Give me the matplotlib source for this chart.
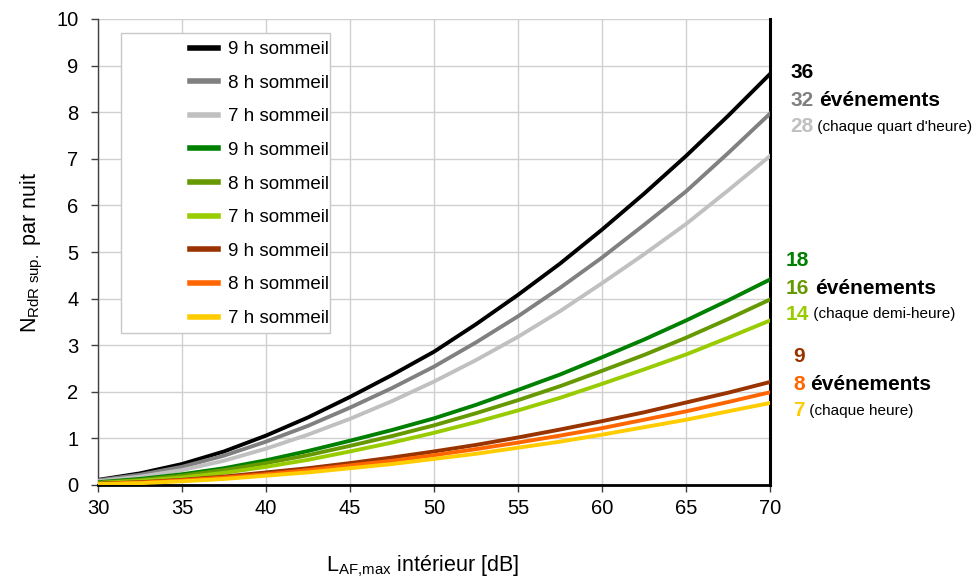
import matplotlib
matplotlib.use("Agg")
import matplotlib.pyplot as plt
from matplotlib.patches import Rectangle

plt.rcParams['font.family'] = ['Liberation Sans', 'DejaVu Sans']
plt.rcParams['mathtext.fontset'] = 'custom'
plt.rcParams['mathtext.rm'] = 'Liberation Sans'
plt.rcParams['mathtext.it'] = 'Liberation Sans:italic'

# niveau LAF,max interieur [dB]
laf = [30, 32.5, 35, 37.5, 40, 42.5, 45, 47.5, 50, 52.5, 55, 57.5, 60, 62.5, 65, 67.5, 70]

# chaque quart d'heure (36 / 32 / 28 evenements)
q9 = [0.11, 0.25, 0.45, 0.72, 1.06, 1.45, 1.89, 2.36, 2.86, 3.45, 4.08, 4.75, 5.48, 6.25, 7.06, 7.92, 8.82]
q8 = [0.10, 0.22, 0.39, 0.63, 0.93, 1.27, 1.66, 2.08, 2.54, 3.06, 3.62, 4.23, 4.88, 5.58, 6.30, 7.12, 7.97]
q7 = [0.08, 0.18, 0.32, 0.52, 0.78, 1.08, 1.42, 1.80, 2.22, 2.68, 3.18, 3.73, 4.33, 4.95, 5.60, 6.32, 7.06]
# chaque demi-heure (18 / 16 / 14)
d9 = [0.06, 0.13, 0.23, 0.36, 0.53, 0.73, 0.95, 1.18, 1.43, 1.72, 2.04, 2.37, 2.74, 3.12, 3.53, 3.96, 4.41]
d8 = [0.05, 0.11, 0.20, 0.32, 0.47, 0.64, 0.84, 1.05, 1.28, 1.54, 1.82, 2.12, 2.45, 2.79, 3.16, 3.56, 3.98]
d7 = [0.04, 0.09, 0.16, 0.26, 0.39, 0.54, 0.72, 0.91, 1.12, 1.35, 1.60, 1.87, 2.17, 2.48, 2.80, 3.16, 3.53]
# chaque heure (9 / 8 / 7)
h9 = [0.03, 0.06, 0.11, 0.18, 0.27, 0.36, 0.47, 0.59, 0.72, 0.86, 1.02, 1.19, 1.37, 1.56, 1.77, 1.98, 2.21]
h8 = [0.02, 0.05, 0.10, 0.16, 0.23, 0.32, 0.42, 0.52, 0.64, 0.77, 0.91, 1.06, 1.22, 1.40, 1.58, 1.78, 1.99]
h7 = [0.02, 0.04, 0.08, 0.13, 0.20, 0.27, 0.36, 0.45, 0.56, 0.67, 0.80, 0.93, 1.08, 1.24, 1.40, 1.58, 1.76]

series = [q9, q8, q7, d9, d8, d7, h9, h8, h7]
labels = ['9 h sommeil', '8 h sommeil', '7 h sommeil'] * 3
colors = ['#000000', '#808080', '#c0c0c0',
          '#008000', '#669900', '#99cc00',
          '#993300', '#ff6600', '#ffcc00']

fig = plt.figure(figsize=(9.72, 5.84), dpi=100)
ax = fig.add_axes([98/972, 99/584, 672/972, 466/584])

for y, lab, c in zip(series, labels, colors):
    ax.plot(laf, y, color=c, lw=2.8, label=lab, solid_joinstyle='round', zorder=3)

ax.set_xlim(30, 70)
ax.set_ylim(0, 10)
ax.set_xticks(range(30, 71, 5))
ax.set_yticks(range(0, 11))
ax.grid(True, color='#d0d0d0', lw=1.0, zorder=0)
ax.set_axisbelow(True)
ax.tick_params(labelsize=14.5, length=5, width=1, color='#404040', direction='out')
ax.tick_params(axis='x', pad=5)
ax.tick_params(axis='y', pad=9)

ax.spines['top'].set_visible(False)
ax.spines['left'].set_linewidth(1.0)
ax.spines['left'].set_color('#404040')
ax.spines['bottom'].set_linewidth(2.0)
ax.spines['right'].set_linewidth(2.2)

ax.set_xlabel('L$_{\\mathrm{AF{,}max}}$ intérieur [dB]', fontsize=15.5)
ax.set_ylabel('N$_{\\mathrm{RdR\\ sup.}}$ par nuit', fontsize=15.5, labelpad=8)
ax.xaxis.set_label_coords(0.483, -0.148)

# cadre de la legende
ax.add_patch(Rectangle((0.034, 0.326), 0.311, 0.644, transform=ax.transAxes,
                       facecolor='white', edgecolor='#c8c8c8', lw=1.0, zorder=4))
leg = ax.legend(loc='upper left', bbox_to_anchor=(0.114, 0.985), frameon=False,
                fontsize=13.5, handlelength=1.5, handletextpad=0.55,
                labelspacing=0.88, borderpad=0.3)
leg.set_zorder(5)
for h in leg.legend_handles:
    h.set_linewidth(4)

# annotations a droite
groups = [
    (['36', '32', '28'], colors[0:3], ' (chaque quart d\'heure)', 790, [73, 101, 127]),
    (['18', '16', '14'], colors[3:6], ' (chaque demi-heure)', 786, [261, 288, 314]),
    (['9', '8', '7'], colors[6:9], ' (chaque heure)', 793, [357, 385, 411]),
]
for nums, cols, note, xp, yps in groups:
    for i, (n, c, yp) in enumerate(zip(nums, cols, yps)):
        t = fig.text(xp / 972, 1 - yp / 584, n, color=c, fontsize=15,
                     fontweight='bold', va='center', ha='left')
        if i == 1:
            ax.annotate('événements', xy=(1, 0.5), xycoords=t, xytext=(4, 0),
                        textcoords='offset points', va='center', ha='left',
                        fontsize=15, fontweight='bold', color='black',
                        annotation_clip=False)
        if i == 2:
            ax.annotate(note, xy=(1, 0.5), xycoords=t, xytext=(0, 0),
                        textcoords='offset points', va='center', ha='left',
                        fontsize=11, color='black', annotation_clip=False)

fig.savefig('out.png', dpi=100)
